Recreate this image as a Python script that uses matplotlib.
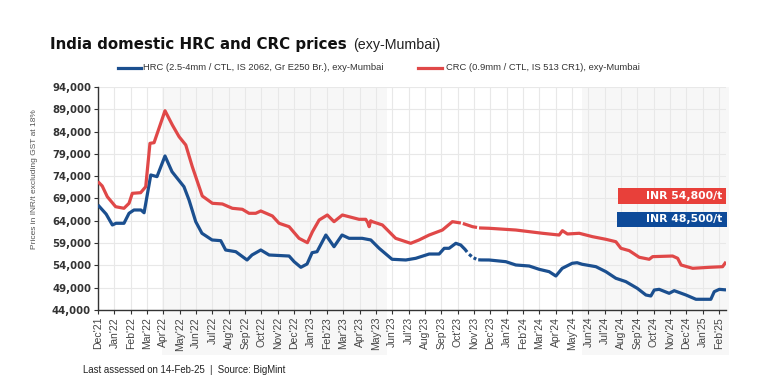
import numpy as np
import matplotlib
matplotlib.use("Agg")
import matplotlib.pyplot as plt
from matplotlib.patches import Rectangle
from matplotlib.lines import Line2D
import matplotlib.transforms as mtransforms

plt.rcParams['font.family'] = ['Liberation Sans', 'DejaVu Sans']

# ---- data (time in months since start of Dec 2021) ----
month_labels = ["Dec'21", "Jan'22", "Feb'22", "Mar'22", "Apr'22", "May'22", "Jun'22", "Jul'22",
                "Aug'22", "Sep'22", "Oct'22", "Nov'22", "Dec'22", "Jan'23", "Feb'23", "Mar'23",
                "Apr'23", "May'23", "Jun'23", "Jul'23", "Aug'23", "Sep'23", "Oct'23", "Nov'23",
                "Dec'23", "Jan'24", "Feb'24", "Mar'24", "Apr'24", "May'24", "Jun'24", "Jul'24",
                "Aug'24", "Sep'24", "Oct'24", "Nov'24", "Dec'24", "Jan'25", "Feb'25"]

hrc_t = [0.0, 0.5, 0.88, 1.10, 1.59, 1.90, 2.20, 2.63, 2.82, 3.23, 3.61, 4.10, 4.53, 5.26, 5.57,
         5.98, 6.36, 6.98, 7.51, 7.81, 8.43, 9.12, 9.42, 9.96, 10.47, 11.69, 12.00, 12.41, 12.79,
         13.10, 13.40, 13.94, 14.44, 14.93, 15.36, 16.16, 16.69, 17.20, 17.99, 18.83, 19.44,
         20.26, 20.87, 21.18, 21.48, 21.89, 22.19, 22.45, 22.58, 22.64, 22.70, 22.86, 22.92,
         22.98, 23.14, 23.20, 23.26, 23.45, 23.93, 24.95, 25.56, 26.38, 26.99, 27.60, 28.01,
         28.40, 29.01, 29.31, 29.62, 30.46, 31.07, 31.68, 32.29, 32.99, 33.52, 33.82, 34.03,
         34.33, 34.94, 35.25, 35.97, 36.58, 37.49, 37.70, 38.01, 38.42]
hrc_v = [67540, 65500, 63060, 63440, 63440, 65680, 66420, 66420, 65800, 74270, 73900, 78530,
         75000, 71640, 68660, 63800, 61200, 59700, 59540, 57450, 57070, 55210, 56330, 57450,
         56330, 56100, 54830, 53570, 54310, 56850, 57070, 60810, 58190, 60810, 60070, 60070,
         59700, 57830, 55370, 55210, 55590, 56550, 56550, 57830, 57830, 58950, 58570, 57600,
         57000, np.nan, 56500, 56000, np.nan, 55700, 55400, np.nan, 55250, 55220, 55210, 54830,
         54090, 53860, 53120, 52590, 51620, 53340, 54470, 54600, 54250, 53710, 52590, 51110,
         50360, 48860, 47360, 47140, 48480, 48630, 47740, 48330, 47360, 46400, 46400, 48110,
         48630, 48500]

crc_t = [0.0, 0.26, 0.57, 1.08, 1.59, 1.90, 2.10, 2.61, 2.92, 3.18, 3.43, 4.10, 4.55, 4.96, 5.37,
         5.77, 6.38, 7.00, 7.61, 8.22, 8.83, 9.24, 9.65, 9.96, 10.67, 11.08, 11.69, 12.30, 12.81,
         13.12, 13.53, 14.03, 14.44, 14.95, 15.97, 16.38, 16.50, 16.59, 16.68, 16.79, 17.40,
         18.21, 19.13, 19.64, 20.26, 21.07, 21.68, 22.20, 22.26, 22.32, 22.91, 23.19, 23.25,
         23.31, 23.93, 25.56, 27.19, 28.21, 28.41, 28.72, 29.44, 30.25, 31.07, 31.68, 31.99,
         32.50, 33.11, 33.72, 33.93, 35.15, 35.46, 35.67, 36.38, 37.40, 38.21, 38.42]
crc_v = [72770, 71800, 69400, 67160, 66800, 67920, 70160, 70300, 71640, 81370, 81510, 88680,
         85480, 82860, 81000, 76130, 69560, 67920, 67770, 66800, 66580, 65680, 65680, 66200,
         65080, 63440, 62680, 60070, 59090, 61550, 64180, 65300, 63800, 65300, 64330, 64330,
         63600, 62680, 64000, 63800, 63060, 60070, 58950, 59700, 60810, 61930, 63800, 63500,
         np.nan, 63400, 62680, 62500, np.nan, 62400, 62320, 61930, 61200, 60810, 61780, 61040,
         61200, 60440, 59850, 59310, 57830, 57300, 55820, 55370, 55960, 56100, 55590, 54090,
         53340, 53570, 53710, 54800]

y_ticks = [44000, 49000, 54000, 59000, 64000, 69000, 74000, 79000, 84000, 89000, 94000]
shade_spans = [(3.92, 17.7), (29.6, 38.6)]

hrc_label = 'HRC (2.5-4mm / CTL, IS 2062, Gr E250 Br.), exy-Mumbai'
crc_label = 'CRC (0.9mm / CTL, IS 513 CR1), exy-Mumbai'

blue = '#1b4f8f'
red = '#e04848'
W, H = 777, 391

fig = plt.figure(figsize=(7.77, 3.91), dpi=100)
ax = fig.add_axes([0.1261, 0.2072, 0.8083, 0.5703])

trans = mtransforms.blended_transform_factory(ax.transData, ax.transAxes)
for a, b in shade_spans:
    ax.add_patch(Rectangle((a, -0.20), b - a, 1.20, transform=trans, clip_on=False,
                           facecolor='#f7f7f7', edgecolor='none', zorder=0))

ax.plot(hrc_t, hrc_v, color=blue, lw=2.3, solid_capstyle='butt', zorder=3)
ax.plot(crc_t, crc_v, color=red, lw=2.3, solid_capstyle='butt', zorder=3)

ax.set_xlim(0, 38.42)
ax.set_ylim(44000, 94000)
ax.set_xticks(range(len(month_labels)))
ax.set_xticklabels(month_labels, rotation=90, fontsize=7.5, color='#444444')
ax.set_yticks(y_ticks)
ax.set_yticklabels([f"{v:,}" for v in y_ticks], fontsize=7.3, color='#333333',
                   fontweight='bold', family='DejaVu Sans')
ax.set_axisbelow(True)
ax.grid(True, color='#e8e8e8', lw=0.8)
ax.set_facecolor('none')
for s in ['top', 'right']:
    ax.spines[s].set_visible(False)
for s in ['left', 'bottom']:
    ax.spines[s].set_color('#333333')
    ax.spines[s].set_linewidth(1.0)
ax.tick_params(axis='both', length=3, width=0.8, color='#333333', pad=2)

# title
title = fig.text(50 / W, 1 - 45 / H, 'India domestic HRC and CRC prices', fontsize=10.8,
                 fontweight='bold', color='#111111', va='center', family='DejaVu Sans')
fig.canvas.draw()
bb = title.get_window_extent()
fig.text(bb.x1 / W + 6 / W, 1 - 45 / H, '(exy-Mumbai)', fontsize=10.3, color='#222222',
         va='center')

# legend
ly = 1 - 68 / H
fig.add_artist(Line2D([118 / W, 141 / W], [ly, ly], color=blue, lw=2.3,
                      transform=fig.transFigure))
fig.text(143 / W, ly, hrc_label, fontsize=6.75, color='#333333', va='center')
fig.add_artist(Line2D([418 / W, 442 / W], [ly, ly], color=red, lw=2.3,
                      transform=fig.transFigure))
fig.text(446 / W, ly, crc_label, fontsize=6.75, color='#333333', va='center')

fig.text(35 / W, 1 - 179 / H, 'Prices in INR/t excluding GST at 18%', rotation=90,
         fontsize=6.0, color='#555555', ha='center', va='center')
fig.text(83 / W, 1 - 370 / H, 'Last assessed on 14-Feb-25  |  Source: BigMint', fontsize=6.9,
         color='#222222', va='center')

# value badges
fig.add_artist(Rectangle((618 / W, 1 - 204 / H), 108 / W, 16 / H, transform=fig.transFigure,
                         facecolor='#e8403a', edgecolor='none'))
fig.text(722 / W, 1 - 196 / H, f"INR {crc_v[-1]:,.0f}/t", color='white', fontsize=7.8,
         fontweight='bold', ha='right', va='center', family='DejaVu Sans')
fig.add_artist(Rectangle((617 / W, 1 - 227 / H), 110 / W, 15 / H, transform=fig.transFigure,
                         facecolor='#0d4a99', edgecolor='none'))
fig.text(722 / W, 1 - 219.5 / H, f"INR {hrc_v[-1]:,.0f}/t", color='white', fontsize=7.8,
         fontweight='bold', ha='right', va='center', family='DejaVu Sans')

fig.savefig('out.png', dpi=100)
